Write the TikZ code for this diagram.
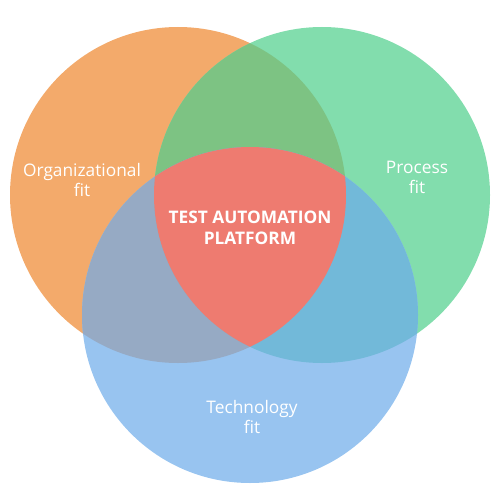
\documentclass[tikz,border=0pt]{standalone}
\usepackage{fontspec}
\setmainfont{Open Sans}
\usetikzlibrary{positioning}
\definecolor{vnOrg}{HTML}{F3AA6B}
\definecolor{vnProc}{HTML}{82DDAD}
\definecolor{vnTech}{HTML}{98C4F0}
\definecolor{vnOrgProc}{HTML}{7DC383}
\definecolor{vnOrgTech}{HTML}{96AAC4}
\definecolor{vnProcTech}{HTML}{72B9D9}
\definecolor{vnCore}{HTML}{EE7B70}
\tikzset{
  vnlabel/.style={text=white, align=center, inner sep=0pt,
    font=\fontsize{17.3}{20}\selectfont},
  vncore/.style={vnlabel, font=\fontsize{17.3}{21}\selectfont\bfseries}
}
\begin{document}
\begin{tikzpicture}[x=1pt, y=-1pt]
  \useasboundingbox (0,0) rectangle (500,500);
  \coordinate (org) at (178,195);
  \coordinate (proc) at (322,195);
  \coordinate (tech) at (250,315);
  \def\vnr{168pt}
  % single circles
  \fill[vnOrg] (org) circle[radius=\vnr];
  \fill[vnProc] (proc) circle[radius=\vnr];
  \fill[vnTech] (tech) circle[radius=\vnr];
  % pairwise overlaps
  \begin{scope}
    \clip (org) circle[radius=\vnr];
    \fill[vnOrgProc] (proc) circle[radius=\vnr];
    \fill[vnOrgTech] (tech) circle[radius=\vnr];
  \end{scope}
  \begin{scope}
    \clip (proc) circle[radius=\vnr];
    \fill[vnProcTech] (tech) circle[radius=\vnr];
  \end{scope}
  % centre
  \begin{scope}
    \clip (org) circle[radius=\vnr];
    \clip (proc) circle[radius=\vnr];
    \fill[vnCore] (tech) circle[radius=\vnr];
  \end{scope}
  % labels
  \node[vnlabel] (orgfit) at (82,180) {Organizational\\fit};
  \node[vnlabel] (procfit) at (417,177) {Process\\fit};
  \node[vnlabel] (techfit) at (252,417) {Technology\\fit};
  \node[vncore] (platform) at (250,228) {TEST AUTOMATION\\PLATFORM};
\end{tikzpicture}
\end{document}
